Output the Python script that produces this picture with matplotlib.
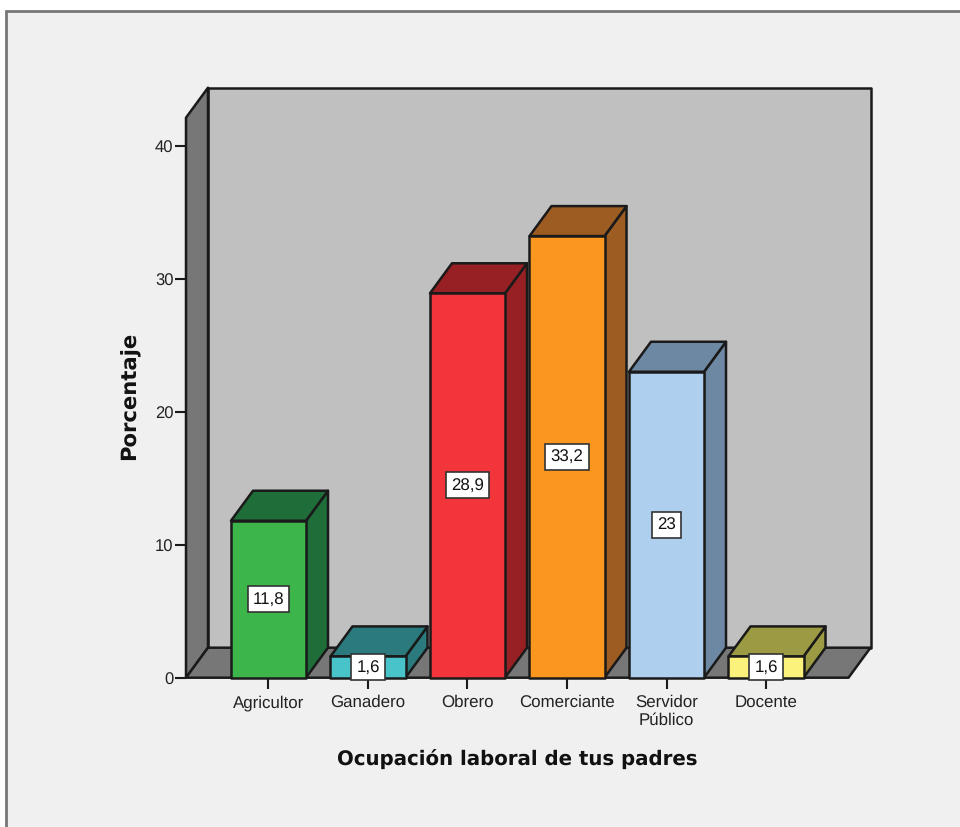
import matplotlib
matplotlib.use('Agg')
import matplotlib.pyplot as plt
from matplotlib.patches import Polygon, Rectangle

categories = ['Agricultor', 'Ganadero', 'Obrero', 'Comerciante', 'Servidor\nPúblico', 'Docente']
values = [11.8, 1.6, 28.9, 33.2, 23, 1.6]
value_labels = ['11,8', '1,6', '28,9', '33,2', '23', '1,6']
front_colors = ['#3cb54a', '#48c3c9', '#f2353b', '#fb971e', '#aed0ee', '#fbf27c']
top_colors = ['#1f6e3a', '#2a7a7e', '#962024', '#9c5c22', '#6d88a2', '#9c9a42']
y_ticks = [0, 10, 20, 30, 40]

W, H = 960, 828
EDGE = '#1a1a1a'
BAR_W = 0.754
DX = 22 / 99.5   # depth in x units
DY = 30 / 13.3   # depth in y units
XMIN, XMAX = -0.829, 5.829
YMAX = 42.1

plt.rcParams['font.family'] = ['Liberation Sans', 'DejaVu Sans']
plt.rcParams['text.hinting'] = 'none'

fig = plt.figure(figsize=(W / 100, H / 100), dpi=100, facecolor='white')
fig.add_artist(Rectangle((6 / W, -0.01), 1.1, 1 - 12 / H + 0.01, transform=fig.transFigure,
                         facecolor='#f0f0f0', edgecolor='#777777', linewidth=2, zorder=-5))

ax = fig.add_axes([186 / W, 1 - 678.7 / H, 662.5 / W, 560 / H])
ax.set_xlim(XMIN, XMAX)
ax.set_ylim(0, YMAX)
ax.patch.set_visible(False)
for s in ax.spines.values():
    s.set_visible(False)


def poly(pts, color, z=1):
    ax.add_patch(Polygon(pts, closed=True, facecolor=color, edgecolor=EDGE, linewidth=1.8,
                         joinstyle='round', clip_on=False, zorder=z))


# walls and floor
poly([(XMIN + DX, DY), (XMAX + DX, DY), (XMAX + DX, YMAX + DY), (XMIN + DX, YMAX + DY)], '#c0c0c0')
poly([(XMIN, 0), (XMIN + DX, DY), (XMIN + DX, YMAX + DY), (XMIN, YMAX)], '#777777')
poly([(XMIN, 0), (XMAX, 0), (XMAX + DX, DY), (XMIN + DX, DY)], '#777777')

# bars
for i, (v, fc, tc) in enumerate(zip(values, front_colors, top_colors)):
    l, r = i - BAR_W / 2, i + BAR_W / 2
    poly([(r, 0), (r + DX, DY), (r + DX, v + DY), (r, v)], tc, 3)
    poly([(l, v), (r, v), (r + DX, v + DY), (l + DX, v + DY)], tc, 3)
    poly([(l, 0), (r, 0), (r, v), (l, v)], fc, 4)
    ax.text(i, v / 2, value_labels[i], ha='center', va='center', fontsize=12.2, color='#111111', zorder=6,
            bbox=dict(boxstyle='square,pad=0.3', facecolor='white', edgecolor='#333333', linewidth=1.2))

ax.set_xticks(range(len(categories)))
ax.set_xticklabels(categories, fontsize=12.2, color='#222222', linespacing=1.2)
ax.set_yticks(y_ticks)
ax.tick_params(axis='x', length=8, width=1.5, color=EDGE, pad=3.5)
ax.tick_params(axis='y', length=8, width=1.5, color=EDGE, pad=1, labelsize=12, labelcolor='#222222')

fig.text(517 / W, 1 - 759 / H, 'Ocupación laboral de tus padres', ha='center', va='center',
         fontsize=14.2, fontweight='bold', family=['DejaVu Sans'], color='#111111')
fig.text(130 / W, 1 - 396 / H, 'Porcentaje', ha='center', va='center', rotation=90,
         fontsize=15.2, fontweight='bold', family=['DejaVu Sans'], color='#111111')

fig.savefig('out.png', dpi=100)
